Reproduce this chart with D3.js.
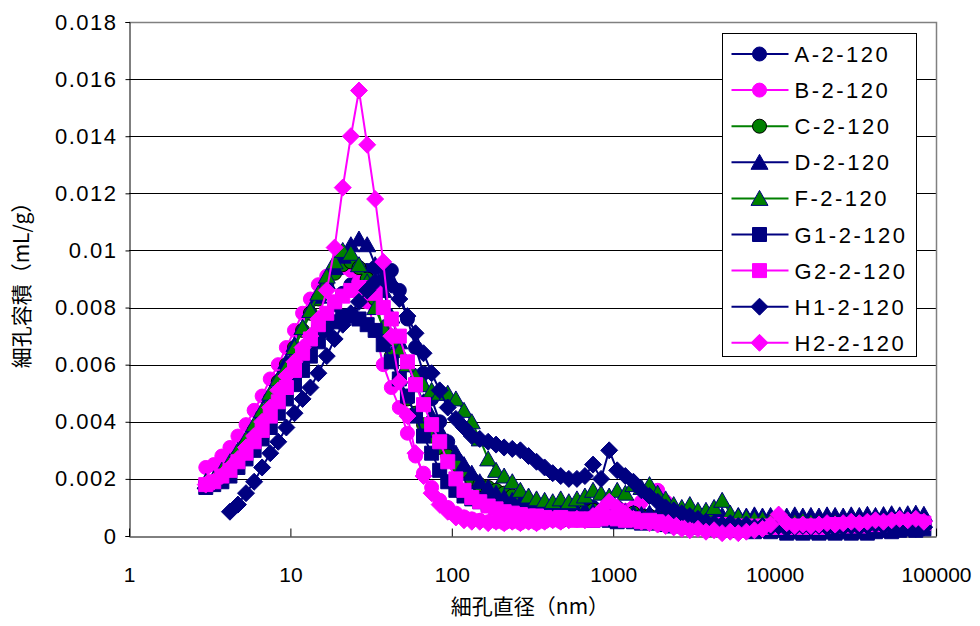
<!DOCTYPE html>
<html>
<head>
<meta charset="utf-8">
<script src="https://cdn.jsdelivr.net/npm/d3@7"></script>
<style>
  body { margin: 0; background: #fff; }
  svg { display: block; }
</style>
</head>
<body>
<div id="viz"></div>
<script>
// pore diameters (nm) shared by all samples
var diameters = [2.99, 3.35, 3.76, 4.22, 4.73, 5.31, 5.96, 6.68, 7.50, 8.41,
  9.44, 10.6, 11.9, 13.3, 14.9, 16.8, 18.8, 21.1, 23.7, 26.6,
  29.9, 33.5, 37.6, 42.2, 47.3, 53.1, 59.6, 66.8, 75.0, 84.1,
  94.4, 106, 119, 133, 149, 168, 188, 211, 237, 266,
  299, 335, 376, 422, 473, 531, 596, 668, 750, 841,
  944, 1059, 1189, 1334, 1496, 1679, 1884, 2113, 2371, 2661,
  2985, 3350, 3758, 4217, 4732, 5309, 5957, 6683, 7499, 8414,
  9441, 10593, 11885, 13335, 14962, 16788, 18836, 21135, 23714, 26607,
  29854, 33497, 37584, 42170, 47315, 53088, 59566, 66834, 74989, 84140]

// pore volume (mL/g)
var seriesA = [0.0018, 0.0019, 0.0021, 0.0024, 0.0027, 0.0030, 0.0034, 0.0038, 0.0043, 0.0048,
  0.0053, 0.0058, 0.0063, 0.0068, 0.0073, 0.0077, 0.0081, 0.0085, 0.0088, 0.0091,
  0.0093, 0.0094, 0.0094, 0.0093, 0.0086, 0.0076, 0.0066, 0.0057, 0.0048, 0.0040,
  0.0033, 0.0027, 0.0022, 0.0019, 0.0017, 0.0015, 0.0014, 0.0013, 0.0012, 0.0011,
  0.0010, 0.00095, 0.0009, 0.00085, 0.0009, 0.0008, 0.00085, 0.0009, 0.0010, 0.0009,
  0.0011, 0.0010, 0.0009, 0.0008, 0.00075, 0.0007, 0.00065, 0.0006, 0.00055, 0.0005,
  0.0005, 0.00045, 0.0005, 0.0004, 0.00045, 0.00035, 0.0004, 0.0003, 0.00035, 0.0003,
  0.00025, 0.0003, 0.0002, 0.00025, 0.0002, 0.00025, 0.0002, 0.00015, 0.0002, 0.0002,
  0.00015, 0.0002, 0.00025, 0.0002, 0.00025, 0.0003, 0.00025, 0.0003, 0.00035, 0.0003]

var seriesB = [0.0024, 0.0025, 0.0028, 0.0031, 0.0035, 0.0039, 0.0044, 0.0049, 0.0055, 0.0060,
  0.0066, 0.0072, 0.0078, 0.0083, 0.0088, 0.0091, 0.0093, 0.0094, 0.0093, 0.0089,
  0.0082, 0.0072, 0.0060, 0.0052, 0.0045, 0.0036, 0.0028, 0.0022, 0.0017, 0.00125,
  0.0010, 0.0008, 0.00067, 0.0006, 0.00055, 0.0005, 0.0005, 0.00045, 0.0005, 0.00045,
  0.0005, 0.00045, 0.0005, 0.00055, 0.0005, 0.0006, 0.00055, 0.0006, 0.00065, 0.0007,
  0.0008, 0.00075, 0.0009, 0.0010, 0.0012, 0.0015, 0.0016, 0.0012, 0.0009, 0.0007,
  0.0006, 0.0005, 0.00045, 0.0004, 0.00035, 0.0003, 0.0003, 0.00025, 0.0003, 0.00035,
  0.0003, 0.00035, 0.0003, 0.00035, 0.0004, 0.00035, 0.0004, 0.00035, 0.0004, 0.00045,
  0.0004, 0.00045, 0.0005, 0.00045, 0.0005, 0.0005, 0.00055, 0.0005, 0.00055, 0.0005]

var seriesC = [0.0018, 0.0019, 0.0021, 0.0024, 0.0028, 0.0032, 0.0037, 0.0042, 0.0048, 0.0054,
  0.0060, 0.0066, 0.0072, 0.0078, 0.0083, 0.0088, 0.0092, 0.0095, 0.0096, 0.0094,
  0.0090, 0.0083, 0.0072, 0.0063, 0.0055, 0.0048, 0.0043, 0.0039, 0.0035, 0.0031,
  0.0028, 0.0025, 0.0023, 0.0020, 0.0018, 0.0017, 0.0016, 0.0015, 0.0014, 0.0013,
  0.0012, 0.0011, 0.0010, 0.0010, 0.0009, 0.00095, 0.0009, 0.00085, 0.0009, 0.0008,
  0.00085, 0.0008, 0.00075, 0.0008, 0.0007, 0.0007, 0.00065, 0.0006, 0.00055, 0.0005,
  0.0005, 0.00045, 0.0005, 0.00045, 0.0004, 0.00045, 0.0004, 0.00035, 0.0004, 0.00035,
  0.0004, 0.00035, 0.0003, 0.00035, 0.0003, 0.0003, 0.00035, 0.0003, 0.0003, 0.00035,
  0.0003, 0.00035, 0.0003, 0.00035, 0.0004, 0.00035, 0.0004, 0.0004, 0.00045, 0.0004]

var seriesD = [0.0019, 0.0020, 0.0022, 0.0025, 0.0029, 0.0033, 0.0038, 0.0043, 0.0049, 0.0055,
  0.0061, 0.0067, 0.0073, 0.0079, 0.0084, 0.0089, 0.0094, 0.0098, 0.0102, 0.0104,
  0.0102, 0.0095, 0.0086, 0.0077, 0.0068, 0.0060, 0.0053, 0.0047, 0.0042, 0.0037,
  0.0033, 0.0029, 0.0025, 0.0022, 0.0019, 0.0017, 0.0015, 0.00135, 0.00125, 0.00115,
  0.00105, 0.0010, 0.00095, 0.0009, 0.00095, 0.0009, 0.00085, 0.0009, 0.00085, 0.0008,
  0.00085, 0.0008, 0.00085, 0.0008, 0.00075, 0.0008, 0.00075, 0.0007, 0.00075, 0.0007,
  0.00075, 0.0007, 0.00075, 0.0007, 0.00072, 0.00068, 0.00072, 0.0007, 0.00074, 0.0007,
  0.00072, 0.00075, 0.0007, 0.00074, 0.0007, 0.00072, 0.0007, 0.00074, 0.00072, 0.0007,
  0.00074, 0.00072, 0.00076, 0.00072, 0.00075, 0.00078, 0.00074, 0.00078, 0.0008, 0.00076]

var seriesF = [0.0019, 0.0020, 0.0023, 0.0026, 0.0030, 0.0034, 0.0039, 0.0044, 0.0050, 0.0055,
  0.0059, 0.0066, 0.0073, 0.0079, 0.0085, 0.0091, 0.0096, 0.0100, 0.0099, 0.0095,
  0.0089, 0.0080, 0.0073, 0.0069, 0.0065, 0.0060, 0.0056, 0.0053, 0.0051, 0.0050,
  0.0050, 0.0048, 0.0044, 0.0040, 0.0034, 0.0027, 0.0023, 0.0021, 0.0019, 0.0016,
  0.0014, 0.0013, 0.00125, 0.0012, 0.0013, 0.0012, 0.0013, 0.0014, 0.0016, 0.0015,
  0.0014, 0.0016, 0.0015, 0.0018, 0.0017, 0.0018, 0.0015, 0.0013, 0.0011, 0.0010,
  0.0011, 0.0009, 0.0009, 0.0010, 0.00125, 0.0008, 0.0007, 0.00065, 0.0006, 0.0006,
  0.00055, 0.0006, 0.00055, 0.0005, 0.00055, 0.0005, 0.0005, 0.00045, 0.0005, 0.00045,
  0.0005, 0.00045, 0.0005, 0.0005, 0.00055, 0.0005, 0.00055, 0.00055, 0.0006, 0.00055]

var seriesG1 = [0.0017, 0.0018, 0.0019, 0.0021, 0.0024, 0.0027, 0.0030, 0.0034, 0.0038, 0.0043,
  0.0048, 0.0053, 0.0058, 0.0063, 0.0068, 0.0072, 0.0075, 0.0077, 0.0077, 0.0076,
  0.0074, 0.0072, 0.0067, 0.0061, 0.0055, 0.0049, 0.0042, 0.0035, 0.0029, 0.0023,
  0.0019, 0.0016, 0.0014, 0.0013, 0.0012, 0.0011, 0.0010, 0.00095, 0.0009, 0.00085,
  0.0008, 0.00075, 0.0007, 0.0007, 0.00065, 0.0006, 0.00065, 0.0006, 0.00055, 0.0006,
  0.00055, 0.0005, 0.00055, 0.0005, 0.00045, 0.0005, 0.00045, 0.0004, 0.00035, 0.0004,
  0.0003, 0.00035, 0.0003, 0.00025, 0.0003, 0.0002, 0.00025, 0.0002, 0.00015, 0.0002,
  0.00015, 0.0002, 0.0001, 0.00015, 0.0001, 0.00015, 0.0001, 0.00015, 0.0001, 0.00015,
  0.0001, 0.00015, 0.0001, 0.00015, 0.0002, 0.00015, 0.0002, 0.00025, 0.0002, 0.00025]

var seriesG2 = [0.0018, 0.0019, 0.0021, 0.0023, 0.0026, 0.0029, 0.0033, 0.0037, 0.0042, 0.0047,
  0.0052, 0.0058, 0.0064, 0.0069, 0.0074, 0.0078, 0.0082, 0.0084, 0.0086, 0.0087,
  0.0087, 0.0085, 0.0080, 0.0076, 0.0070, 0.0061, 0.0053, 0.0046, 0.0039, 0.0033,
  0.0026, 0.0020, 0.0016, 0.00135, 0.0012, 0.00105, 0.00095, 0.00085, 0.0008, 0.00075,
  0.0007, 0.0007, 0.00065, 0.0006, 0.00065, 0.0006, 0.00055, 0.0006, 0.00055, 0.0006,
  0.00065, 0.0006, 0.00055, 0.0006, 0.0005, 0.00055, 0.0005, 0.00045, 0.0005, 0.00045,
  0.0004, 0.00045, 0.0004, 0.00035, 0.0004, 0.00035, 0.0003, 0.00035, 0.0003, 0.00035,
  0.0003, 0.00035, 0.0003, 0.00035, 0.0003, 0.00035, 0.0003, 0.00035, 0.0004, 0.00035,
  0.0004, 0.00035, 0.0004, 0.00045, 0.0004, 0.00045, 0.0005, 0.00045, 0.0005, 0.00045]

var seriesH1 = [null, null, null, 0.00085, 0.0011, 0.0015, 0.0019, 0.0024, 0.0029, 0.0033,
  0.0038, 0.0043, 0.0048, 0.0052, 0.0057, 0.0063, 0.0069, 0.0074, 0.0078, 0.0082,
  0.0086, 0.0089, 0.0090, 0.0088, 0.0083, 0.0077, 0.0071, 0.0064, 0.0057, 0.0051,
  0.0045, 0.0041, 0.0038, 0.0035, 0.0034, 0.0033, 0.0032, 0.0031, 0.00305, 0.0030,
  0.0028, 0.0026, 0.0024, 0.0022, 0.0021, 0.0020, 0.0020, 0.0021, 0.0025, 0.0020,
  0.0030, 0.0023, 0.0021, 0.0019, 0.0016, 0.0014, 0.0012, 0.0010, 0.0009, 0.0008,
  0.0007, 0.0006, 0.0005, 0.00045, 0.0004, 0.00045, 0.00035, 0.0004, 0.0003, 0.00035,
  0.0003, 0.00035, 0.00025, 0.0003, 0.00035, 0.0003, 0.00035, 0.0003, 0.00025, 0.0003,
  0.00035, 0.0003, 0.00035, 0.0004, 0.00035, 0.0003, 0.00035, 0.0003, 0.00025, 0.0003]

var seriesH2 = [0.0018, 0.0019, 0.0021, 0.0024, 0.0027, 0.0031, 0.0035, 0.0040, 0.0045, 0.0051,
  0.0056, 0.0061, 0.0066, 0.0070, 0.0076, 0.0086, 0.0101, 0.0122, 0.0140, 0.0156,
  0.0137, 0.0118, 0.0096, 0.0070, 0.0054, 0.0042, 0.0029, 0.0021, 0.0015, 0.0011,
  0.00085, 0.00065, 0.00055, 0.0005, 0.0005, 0.00045, 0.0005, 0.00045, 0.0005, 0.00045,
  0.0005, 0.00045, 0.0005, 0.00055, 0.0005, 0.00055, 0.0006, 0.00055, 0.0007, 0.0009,
  0.0012, 0.0010, 0.0008, 0.0006, 0.0005, 0.00045, 0.0004, 0.00035, 0.0003, 0.00025,
  0.0002, 0.00025, 0.00015, 0.0002, 0.0001, 0.00015, 0.0001, 0.00015, 0.0002, 0.00025,
  0.0004, 0.00075, 0.00045, 0.00035, 0.0004, 0.00035, 0.0004, 0.00045, 0.0004, 0.00045,
  0.0005, 0.00045, 0.0005, 0.00055, 0.0005, 0.00055, 0.0006, 0.00055, 0.0006, 0.0005]

var seriesNames = ['A-2-120', 'B-2-120', 'C-2-120', 'D-2-120', 'F-2-120',
  'G1-2-120', 'G2-2-120', 'H1-2-120', 'H2-2-120']
var seriesValues = [seriesA, seriesB, seriesC, seriesD, seriesF,
  seriesG1, seriesG2, seriesH1, seriesH2]

var xTicks = [1, 10, 100, 1000, 10000, 100000]
var yTicks = [0, 0.002, 0.004, 0.006, 0.008, 0.01, 0.012, 0.014, 0.016, 0.018]

// look of each series: line colour, marker shape, fill, outline
var navy = '#000080', pink = '#ff00ff', green = '#008000'
var styles = [
  {line: navy,  shape: 'circle',   fill: navy,  stroke: navy},
  {line: pink,  shape: 'circle',   fill: pink,  stroke: pink},
  {line: green, shape: 'circle',   fill: green, stroke: '#000'},
  {line: navy,  shape: 'triangle', fill: navy,  stroke: navy},
  {line: green, shape: 'triangle', fill: green, stroke: navy},
  {line: navy,  shape: 'square',   fill: navy,  stroke: navy},
  {line: pink,  shape: 'square',   fill: pink,  stroke: pink},
  {line: navy,  shape: 'diamond',  fill: navy,  stroke: navy},
  {line: pink,  shape: 'diamond',  fill: pink,  stroke: pink}
]

var width = 980, height = 626
var plot = {left: 129, right: 936, top: 22, bottom: 536}

var svg = d3.select('#viz').append('svg')
  .attr('width', width)
  .attr('height', height)

var xScale = d3.scaleLog()
  .domain([1, 100000])
  .range([plot.left, plot.right])

var yScale = d3.scaleLinear()
  .domain([0, 0.018])
  .range([plot.bottom, plot.top])

function markerPath(shape) {
  if (shape == 'circle') return d3.symbol(d3.symbolCircle, Math.PI * 7 * 7)()
  if (shape == 'square') return 'M-7,-7h14v14h-14Z'
  if (shape == 'diamond') return 'M0,-8.5L8.5,0L0,8.5L-8.5,0Z'
  return 'M0,-8L8.5,7L-8.5,7Z'
}

// grid lines
svg.append('g')
  .selectAll('line').data(yTicks.slice(1))
  .enter().append('line')
  .attr('x1', plot.left).attr('x2', plot.right)
  .attr('y1', function(d) { return Math.round(yScale(d)) + 0.5 })
  .attr('y2', function(d) { return Math.round(yScale(d)) + 0.5 })
  .attr('stroke', '#000')
  .attr('stroke-width', 1)

// gray plot border (top/right)
svg.append('path')
  .attr('d', 'M' + plot.left + ',' + (plot.top + 0.5) + 'H' + (plot.right + 0.5) + 'V' + plot.bottom)
  .attr('fill', 'none')
  .attr('stroke', '#808080')
  .attr('stroke-width', 1.5)

// y axis
var yAxis = d3.axisLeft(yScale)
  .tickValues(yTicks)
  .tickSize(4)
  .tickFormat(function(d) { return String(d) })
var yG = svg.append('g')
  .attr('transform', 'translate(' + (plot.left + 0.5) + ',0)')
  .call(yAxis)
yG.select('.domain').attr('stroke', '#000')
yG.selectAll('text')
  .attr('x', -12)
  .style('font-family', 'Liberation Sans, Arial, sans-serif')
  .style('font-size', '22px')
  .style('letter-spacing', '1.5px')
  .attr('fill', '#000')

// x axis (ticks point inward)
var xAxis = d3.axisBottom(xScale)
  .tickValues(xTicks)
  .tickSizeInner(-8)
  .tickSizeOuter(0)
  .tickFormat(function(d) { return String(d) })
var xG = svg.append('g')
  .attr('transform', 'translate(0,' + (plot.bottom + 0.5) + ')')
  .call(xAxis)
xG.select('.domain').attr('stroke', '#000')
xG.selectAll('text')
  .attr('y', 31)
  .style('font-family', 'Liberation Sans, Arial, sans-serif')
  .style('font-size', '21px')
  .attr('fill', '#000')

// series: line then markers, in legend order
var line = d3.line()
  .defined(function(d) { return d.v != null })
  .x(function(d) { return xScale(d.x) })
  .y(function(d) { return yScale(d.v) })

seriesValues.forEach(function(vals, k) {
  var st = styles[k]
  var pts = diameters.map(function(x, i) { return {x: x, v: vals[i]} })
  var g = svg.append('g').attr('class', 'series')
  g.append('path')
    .datum(pts)
    .attr('d', line)
    .attr('fill', 'none')
    .attr('stroke', st.line)
    .attr('stroke-width', 2)
  g.selectAll('path.m').data(pts.filter(function(d) { return d.v != null }))
    .enter().append('path')
    .attr('class', 'm')
    .attr('d', markerPath(st.shape))
    .attr('transform', function(d) { return 'translate(' + xScale(d.x) + ',' + yScale(d.v) + ')' })
    .attr('fill', st.fill)
    .attr('stroke', st.stroke)
    .attr('stroke-width', 1)
})

// legend
var legend = svg.append('g').attr('transform', 'translate(722.5,33.5)')
legend.append('rect')
  .attr('width', 194).attr('height', 323)
  .attr('fill', '#fff').attr('stroke', '#000').attr('stroke-width', 1)

var item = legend.selectAll('g.item').data(seriesNames)
  .enter().append('g')
  .attr('class', 'item')
  .attr('transform', function(d, i) { return 'translate(0,' + (20.5 + i * 36.1) + ')' })
item.append('line')
  .attr('x1', 9).attr('x2', 66)
  .attr('stroke', function(d, i) { return styles[i].line })
  .attr('stroke-width', 2)
item.append('path')
  .attr('d', function(d, i) { return markerPath(styles[i].shape) })
  .attr('transform', 'translate(37,0)')
  .attr('fill', function(d, i) { return styles[i].fill })
  .attr('stroke', function(d, i) { return styles[i].stroke })
item.append('text')
  .attr('x', 72).attr('y', 8)
  .style('font-family', 'Liberation Sans, Arial, sans-serif')
  .style('font-size', '22px')
  .style('letter-spacing', '2.5px')
  .text(function(d) { return d })

// axis titles
svg.append('text')
  .attr('x', 530).attr('y', 614)
  .attr('text-anchor', 'middle')
  .style('font-family', 'Noto Sans CJK JP, sans-serif')
  .style('font-size', '21px')
  .text('細孔直径（nm）')

svg.append('text')
  .attr('transform', 'translate(29,280) rotate(-90)')
  .attr('text-anchor', 'middle')
  .style('font-family', 'Noto Sans CJK JP, sans-serif')
  .style('font-size', '21px')
  .text('細孔容積（mL/g）')
</script>
</body>
</html>
